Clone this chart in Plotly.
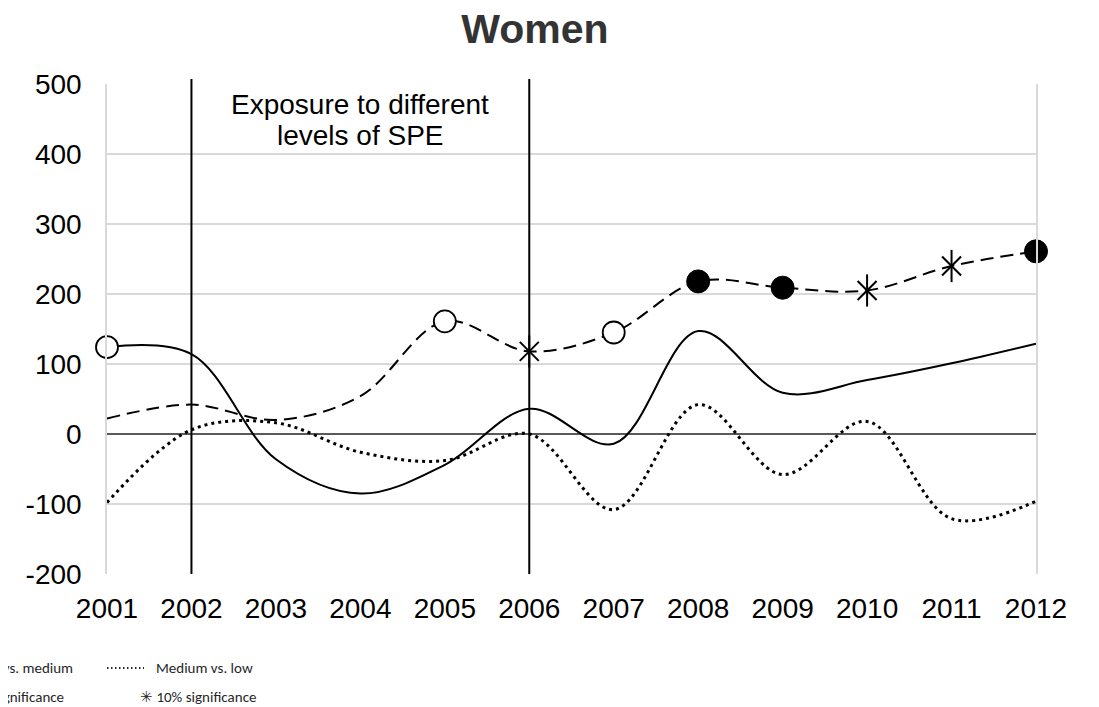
import plotly.graph_objects as go

years = [2001, 2002, 2003, 2004, 2005, 2006, 2007, 2008, 2009, 2010, 2011, 2012]
high_vs_low = [124, 114, -36, -85, -44, 36, -14, 147, 59, 77, 101, 129]
high_vs_medium = [22, 42, 20, 54, 161, 118, 145, 218, 209, 205, 240, 261]
medium_vs_low = [-98, 6, 16, -26, -38, 0, -108, 42, -58, 18, -121, -96]

sig_high_vs_low = ["5%", None, None, None, None, None, None, None, None, None, None, None]
sig_high_vs_medium = [None, None, None, None, "5%", "10%", "5%", "1%", "1%", "10%", "10%", "1%"]

title_text = "Women"
exposure_lines = ["Exposure to different", "levels of SPE"]
exposure_years = [2002, 2006]
y_ticks = [-200, -100, 0, 100, 200, 300, 400, 500]
y_ticklabels = ["-200", "-100", "0", "100", "200", "300", "400", "500"]

FONT = "Liberation Sans, Arial, sans-serif"
LEG_FONT = "Carlito, Lato, sans-serif"

# page offset (body margin) and plot-area geometry in page pixels
OFF = 8
W, H = 1099 - OFF, 707 - OFF
L, R, T, B = 107 - OFF, 1036 - OFF, 84 - OFF, 574 - OFF


def px(x_page):
    return (x_page - OFF - L) / (R - L)


def py(y_page):
    return (B - (y_page - OFF)) / (B - T)


fig = go.Figure()

fig.add_trace(go.Scatter(x=years, y=high_vs_low, mode="lines", name="High vs. low",
                         line=dict(color="black", width=2, shape="spline", smoothing=1),
                         cliponaxis=False))
fig.add_trace(go.Scatter(x=years, y=high_vs_medium, mode="lines", name="High vs. medium",
                         line=dict(color="black", width=2, shape="spline", smoothing=1, dash="13px,7px"),
                         cliponaxis=False))
fig.add_trace(go.Scatter(x=years, y=medium_vs_low, mode="lines", name="Medium vs. low",
                         line=dict(color="black", width=3, shape="spline", smoothing=1, dash="3px,4px"),
                         cliponaxis=False))


def add_markers(ys, sigs):
    for level in ["1%", "5%", "10%"]:
        xs = [x for x, s in zip(years, sigs) if s == level]
        yv = [y for y, s in zip(ys, sigs) if s == level]
        if not xs:
            continue
        if level == "1%":
            fig.add_trace(go.Scatter(x=xs, y=yv, mode="markers", showlegend=False, cliponaxis=False,
                                     marker=dict(symbol="circle", size=23, color="black",
                                                 line=dict(color="black", width=1))))
        elif level == "5%":
            fig.add_trace(go.Scatter(x=xs, y=yv, mode="markers", showlegend=False, cliponaxis=False,
                                     marker=dict(symbol="circle", size=22, color="white",
                                                 line=dict(color="black", width=1.8))))
        else:
            fig.add_trace(go.Scatter(x=xs, y=yv, mode="markers", showlegend=False, cliponaxis=False,
                                     marker=dict(symbol="x-thin-open", size=19, color="black",
                                                 line=dict(color="black", width=2))))
            fig.add_trace(go.Scatter(x=xs, y=yv, mode="markers", showlegend=False, cliponaxis=False,
                                     marker=dict(symbol="line-ns-open", size=23, color="black",
                                                 line=dict(color="black", width=2))))


add_markers(high_vs_low, sig_high_vs_low)
add_markers(high_vs_medium, sig_high_vs_medium)

for yr in exposure_years:
    fig.add_shape(type="line", xref="x", yref="paper", x0=yr, x1=yr, y0=0, y1=1 + 5 / (B - T),
                  line=dict(color="black", width=2))

mid_year = (exposure_years[0] + exposure_years[1]) / 2
for line_text, y_page in zip(exposure_lines, [104, 135]):
    fig.add_annotation(x=mid_year, y=py(y_page), xref="x", yref="paper",
                       text=line_text, showarrow=False, yanchor="middle", xanchor="center",
                       font=dict(family=FONT, size=28, color="black"))

leg_color = "#262626"
LEG_SIZE = 15
fig.add_annotation(x=px(75), y=py(668), xref="paper", yref="paper", xanchor="right", yanchor="middle",
                   text="– – – High vs. medium", showarrow=False,
                   font=dict(family=LEG_FONT, size=LEG_SIZE, color=leg_color))
fig.add_shape(type="line", xref="paper", yref="paper", x0=px(107), x1=px(144), y0=py(668), y1=py(668),
              line=dict(color=leg_color, width=2, dash="1.5px,2.5px"))
fig.add_annotation(x=px(154), y=py(668), xref="paper", yref="paper", xanchor="left", yanchor="middle",
                   text="Medium vs. low", showarrow=False,
                   font=dict(family=LEG_FONT, size=LEG_SIZE, color=leg_color))
fig.add_annotation(x=px(66), y=py(697), xref="paper", yref="paper", xanchor="right", yanchor="middle",
                   text="○ 5% significance", showarrow=False,
                   font=dict(family=LEG_FONT, size=LEG_SIZE, color=leg_color))
fig.add_annotation(x=px(138), y=py(697), xref="paper", yref="paper", xanchor="left", yanchor="middle",
                   text="✳ 10% significance", showarrow=False,
                   font=dict(family=LEG_FONT, size=LEG_SIZE, color=leg_color))

fig.update_layout(
    width=W, height=H,
    paper_bgcolor="white", plot_bgcolor="white",
    margin=dict(l=L, r=W - R, t=T, b=H - B, pad=0),
    showlegend=False,
    title=dict(text="<b>" + title_text + "</b>", x=(535 - OFF) / W, xanchor="center",
               y=1 - (29 - OFF) / H, yanchor="middle",
               font=dict(family=FONT, size=41, color="#333333")),
    xaxis=dict(range=[2001, 2012], tickvals=years, ticktext=[str(y) for y in years],
               showgrid=False, zeroline=False, showline=False, ticks="",
               tickfont=dict(family=FONT, size=28, color="black"), ticklabelstandoff=15),
    yaxis=dict(range=[-200, 500], tickvals=y_ticks, ticktext=y_ticklabels,
               showgrid=True, gridcolor="#d9d9d9", gridwidth=1.5,
               zeroline=True, zerolinecolor="#595959", zerolinewidth=1.5,
               showline=True, linecolor="#d9d9d9", linewidth=1.5, mirror=True, ticks="",
               tickfont=dict(family=FONT, size=28, color="black"), ticklabelstandoff=18),
)

fig.write_html("out.html")
